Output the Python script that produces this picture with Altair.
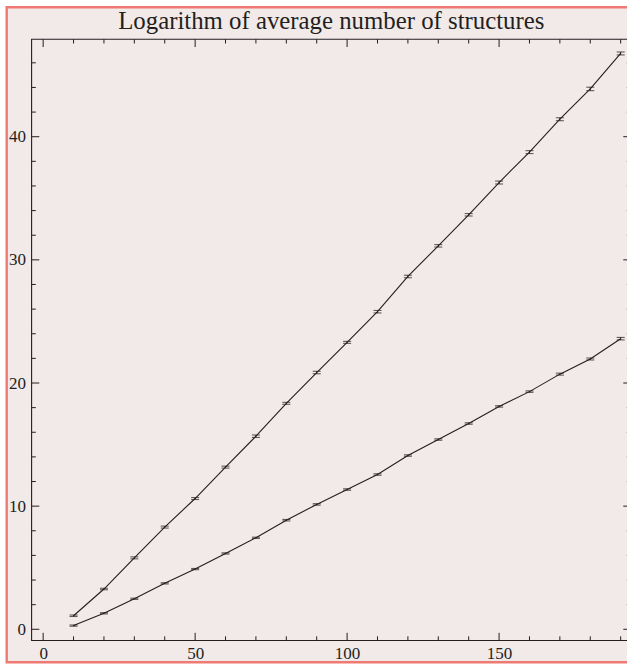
import altair as alt
import pandas as pd

# ---- data ----
x_vals = [10, 20, 30, 40, 50, 60, 70, 80, 90, 100, 110, 120, 130, 140, 150, 160, 170, 180, 190]
upper = [1.10, 3.27, 5.80, 8.30, 10.62, 13.17, 15.68, 18.35, 20.85, 23.30, 25.79, 28.65,
         31.14, 33.66, 36.28, 38.75, 41.42, 43.88, 46.76]
upper_err = [0.06, 0.06, 0.08, 0.08, 0.08, 0.08, 0.10, 0.08, 0.10, 0.08, 0.10, 0.10,
             0.10, 0.10, 0.12, 0.12, 0.12, 0.14, 0.12]
lower = [0.30, 1.30, 2.48, 3.73, 4.89, 6.16, 7.43, 8.86, 10.14, 11.35, 12.57, 14.11,
         15.41, 16.71, 18.10, 19.30, 20.72, 21.95, 23.60]
lower_err = [0.05, 0.05, 0.05, 0.05, 0.05, 0.05, 0.05, 0.06, 0.06, 0.06, 0.06, 0.06,
             0.06, 0.06, 0.06, 0.06, 0.08, 0.08, 0.10]

x_major = [0, 50, 100, 150]
x_minor = [10, 20, 30, 40, 60, 70, 80, 90, 110, 120, 130, 140, 160, 170, 180, 190]
y_major = [0, 10, 20, 30, 40]
y_minor = [2, 4, 6, 8, 12, 14, 16, 18, 22, 24, 26, 28, 32, 34, 36, 38, 42, 44, 46]

title_text = "Logarithm of average number of structures"

# ---- layout ----
W = 599.4
H = 601.2
PAD_L, PAD_T, PAD_R, PAD_B = 31.6, 39.3, -4.0, 23.5
INK = "#231f20"
BG = "#f2e9e9"
BORDER = "#ef7a73"
FONT = "Liberation Serif"
MAJ, MIN = 7.7, 4.2

xs = alt.Scale(domain=[-3.8, 193.4], nice=False, zero=False)
ys = alt.Scale(domain=[-0.91, 47.91], nice=False, zero=False)
xaxis = alt.Axis(values=x_major, ticks=False, domain=False, grid=False, labelFont=FONT,
                 labelFontSize=17, labelColor=INK, labelPadding=5, title=None,
                 labelFlush=False, labelOverlap=False, zindex=2)
yaxis = alt.Axis(values=y_major, ticks=False, domain=False, grid=False, labelFont=FONT,
                 labelFontSize=17, labelColor=INK, labelPadding=6, title=None,
                 labelOverlap=False, zindex=2)

rows = []
for name, vals, errs in (("upper", upper, upper_err), ("lower", lower, lower_err)):
    for xv, v, e in zip(x_vals, vals, errs):
        rows.append({"series": name, "x": xv, "v": v, "lo": v - e, "hi": v + e})
df = pd.DataFrame(rows)
one = pd.DataFrame({"k": [0]})

X = alt.X("x:Q", scale=xs, axis=xaxis)
Y = alt.Y("v:Q", scale=ys, axis=yaxis)

border = alt.Chart(one).mark_rect(fill=BG, stroke=BORDER, strokeWidth=2.4).encode(
    x=alt.value(6.7 - PAD_L), x2=alt.value(W + 40),
    y=alt.value(7.2 - PAD_T), y2=alt.value(662.2 - PAD_T))

title = alt.Chart(one).mark_text(
    text=title_text, font=FONT, fontSize=24.8, color=INK, align="center",
    baseline="alphabetic").encode(x=alt.value(W / 2), y=alt.value(28.6 - PAD_T))

frame = alt.Chart(one).mark_rect(fillOpacity=0, stroke=INK, strokeWidth=1.1).encode(
    x=alt.value(0), x2=alt.value(W), y=alt.value(0), y2=alt.value(H))

lines = alt.Chart(df).mark_line(color=INK, strokeWidth=1.1).encode(
    x=X, y=Y, detail="series:N")

bars = alt.Chart(df).mark_rule(color=INK, strokeWidth=1).encode(
    x=X, y=alt.Y("lo:Q", scale=ys, axis=yaxis), y2="hi:Q")
cap_hi = alt.Chart(df).mark_tick(orient="horizontal", color=INK, size=8, thickness=1.1).encode(
    x=X, y=alt.Y("hi:Q", scale=ys, axis=yaxis))
cap_lo = alt.Chart(df).mark_tick(orient="horizontal", color=INK, size=8, thickness=1.1).encode(
    x=X, y=alt.Y("lo:Q", scale=ys, axis=yaxis))


def xticks(vals, length):
    d = pd.DataFrame({"x": vals})
    b = alt.Chart(d).mark_rule(color=INK, strokeWidth=1).encode(
        x=X, y=alt.value(H), y2=alt.value(H - length))
    t = alt.Chart(d).mark_rule(color=INK, strokeWidth=1).encode(
        x=X, y=alt.value(0), y2=alt.value(length))
    return [b, t]


def yticks(vals, length):
    d = pd.DataFrame({"v": vals})
    l = alt.Chart(d).mark_rule(color=INK, strokeWidth=1).encode(
        y=Y, x=alt.value(0), x2=alt.value(length))
    r = alt.Chart(d).mark_rule(color=INK, strokeWidth=1).encode(
        y=Y, x=alt.value(W), x2=alt.value(W - length))
    return [l, r]


layers = [border, title, frame, lines, bars, cap_hi, cap_lo]
layers += xticks(x_major, MAJ) + xticks(x_minor, MIN)
layers += yticks(y_major, MAJ) + yticks(y_minor, MIN)

chart = alt.layer(*layers).properties(
    width=W, height=H,
    padding={"left": PAD_L, "top": PAD_T, "right": PAD_R, "bottom": PAD_B},
    autosize=alt.AutoSizeParams(type="none"),
).configure(background="white").configure_view(strokeWidth=0)

chart.save("out.html", embed_options={"renderer": "svg", "actions": False})
